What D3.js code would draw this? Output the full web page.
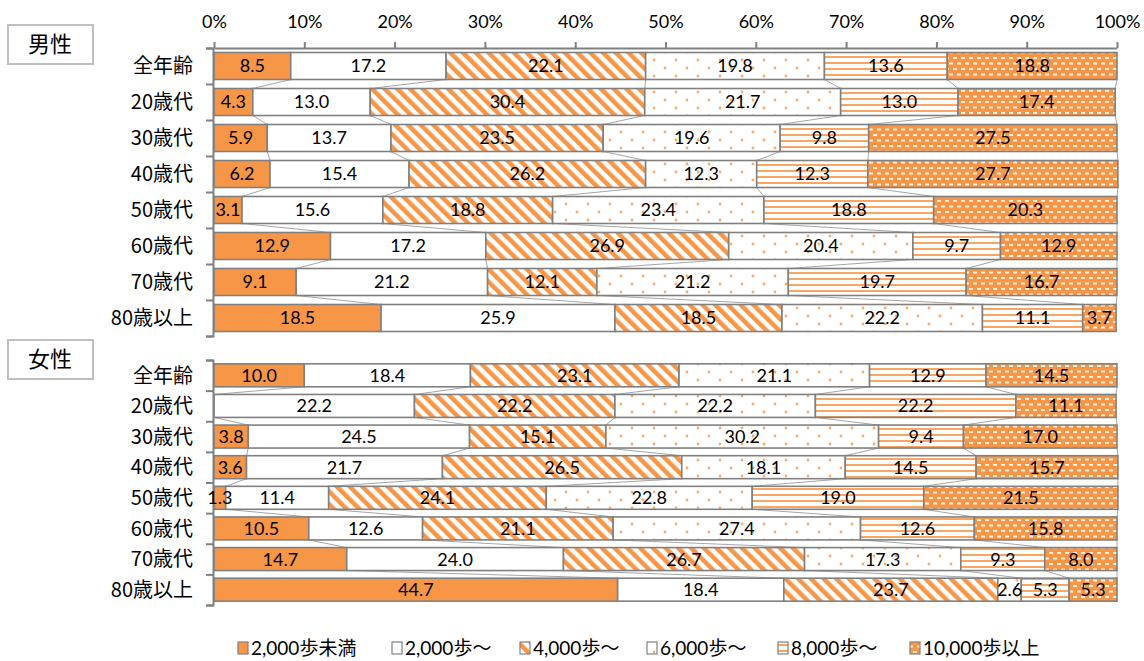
<!DOCTYPE html>
<html>
<head>
<meta charset="utf-8">
<script src="https://cdn.jsdelivr.net/npm/d3@7"></script>
<style>
  body { margin: 0; background: #fff; }
  text { font-family: Lato, "Noto Sans CJK JP", sans-serif; fill: #000; }
  .jp { font-family: "Noto Sans CJK JP", sans-serif; }
</style>
</head>
<body>
<div id="chart"></div>
<script>
var ages = ["全年齢", "20歳代", "30歳代", "40歳代", "50歳代", "60歳代", "70歳代", "80歳以上"];
var steps = ["2,000歩未満", "2,000歩～", "4,000歩～", "6,000歩～", "8,000歩～", "10,000歩以上"];
var xTicks = [0, 10, 20, 30, 40, 50, 60, 70, 80, 90, 100];

// 男性: one row per age group, one value per step class (%)
var male = [
    [8.5, 17.2, 22.1, 19.8, 13.6, 18.8],
    [4.3, 13.0, 30.4, 21.7, 13.0, 17.4],
    [5.9, 13.7, 23.5, 19.6, 9.8, 27.5],
    [6.2, 15.4, 26.2, 12.3, 12.3, 27.7],
    [3.1, 15.6, 18.8, 23.4, 18.8, 20.3],
    [12.9, 17.2, 26.9, 20.4, 9.7, 12.9],
    [9.1, 21.2, 12.1, 21.2, 19.7, 16.7],
    [18.5, 25.9, 18.5, 22.2, 11.1, 3.7]
];

// 女性
var female = [
    [10.0, 18.4, 23.1, 21.1, 12.9, 14.5],
    [0, 22.2, 22.2, 22.2, 22.2, 11.1],
    [3.8, 24.5, 15.1, 30.2, 9.4, 17.0],
    [3.6, 21.7, 26.5, 18.1, 14.5, 15.7],
    [1.3, 11.4, 24.1, 22.8, 19.0, 21.5],
    [10.5, 12.6, 21.1, 27.4, 12.6, 15.8],
    [14.7, 24.0, 26.7, 17.3, 9.3, 8.0],
    [44.7, 18.4, 23.7, 2.6, 5.3, 5.3]
];

var orange = "#f79646";
var grey = "#808080";

var svg = d3.select("#chart").append("svg")
    .attr("width", 1144)
    .attr("height", 661);

var x = d3.scaleLinear().domain([0, 100]).range([214, 1117]);

// patterns
var defs = svg.append("defs");

var pDiag = defs.append("pattern").attr("id", "p2")
    .attr("patternUnits", "userSpaceOnUse")
    .attr("width", 9).attr("height", 9)
    .attr("patternTransform", "rotate(-45)");
pDiag.append("rect").attr("width", 9).attr("height", 9).attr("fill", "#fff");
pDiag.append("rect").attr("width", 4.5).attr("height", 9).attr("fill", orange);

var pDots = defs.append("pattern").attr("id", "p3")
    .attr("patternUnits", "userSpaceOnUse")
    .attr("width", 22).attr("height", 16);
pDots.append("rect").attr("width", 22).attr("height", 16).attr("fill", "#fff");
pDots.append("circle").attr("cx", 5).attr("cy", 4).attr("r", 1.4).attr("fill", orange).attr("opacity", 0.8);
pDots.append("circle").attr("cx", 16).attr("cy", 12).attr("r", 1.4).attr("fill", orange).attr("opacity", 0.8);

var pHoriz = defs.append("pattern").attr("id", "p4")
    .attr("patternUnits", "userSpaceOnUse")
    .attr("width", 8).attr("height", 6);
pHoriz.append("rect").attr("width", 8).attr("height", 6).attr("fill", "#fff");
pHoriz.append("rect").attr("y", 2).attr("width", 8).attr("height", 2).attr("fill", orange).attr("opacity", 0.85);

var pBrick = defs.append("pattern").attr("id", "p5")
    .attr("patternUnits", "userSpaceOnUse")
    .attr("width", 8).attr("height", 11);
pBrick.append("rect").attr("width", 8).attr("height", 11).attr("fill", orange);
pBrick.append("rect").attr("x", 1).attr("y", 2).attr("width", 4).attr("height", 2).attr("fill", "#fff").attr("opacity", 0.85);
pBrick.append("rect").attr("x", 5).attr("y", 7.5).attr("width", 4).attr("height", 2).attr("fill", "#fff").attr("opacity", 0.85);
pBrick.append("rect").attr("x", -3).attr("y", 7.5).attr("width", 4).attr("height", 2).attr("fill", "#fff").attr("opacity", 0.85);

var fills = [orange, "#fff", "url(#p2)", "url(#p3)", "url(#p4)", "url(#p5)"];

var stack = d3.stack().keys(d3.range(steps.length));

function drawPanel(rows, top, bottom, title, titleY, withAxis) {
    var y = d3.scaleBand().domain(ages).range([top, bottom])
        .paddingInner(0.25).paddingOuter(0.125);
    var slot = d3.scaleLinear().domain([0, ages.length]).range([top, bottom]);
    var series = stack(rows);

    // series lines between bars
    var g = svg.append("g");
    series.forEach(function(s) {
        for (var i = 0; i < ages.length - 1; i++) {
            g.append("line")
                .attr("x1", x(s[i][1])).attr("y1", y(ages[i]) + y.bandwidth())
                .attr("x2", x(s[i + 1][1])).attr("y2", y(ages[i + 1]))
                .attr("stroke", "#a6a6a6").attr("stroke-width", 1);
        }
    });

    series.forEach(function(s, k) {
        svg.append("g").selectAll("rect")
            .data(s.filter(function(d) { return d[1] - d[0] > 0; }))
            .enter().append("rect")
            .attr("x", function(d) { return x(d[0]); })
            .attr("y", function(d) { return y(ages[s.indexOf(d)]); })
            .attr("width", function(d) { return x(d[1]) - x(d[0]); })
            .attr("height", y.bandwidth())
            .attr("fill", fills[k])
            .attr("stroke", grey)
            .attr("stroke-width", 1.6);
    });

    // left axis with ticks between categories
    svg.append("g")
        .attr("transform", "translate(213,0)")
        .call(d3.axisLeft(slot).ticks(ages.length).tickFormat("").tickSize(7).tickSizeOuter(7))
        .call(function(a) {
            a.selectAll("path, line").attr("stroke", grey).attr("stroke-width", 2);
        });

    // data labels on top of everything
    series.forEach(function(s) {
        svg.append("g").selectAll("text")
            .data(s.filter(function(d) { return d[1] - d[0] > 0; }))
            .enter().append("text")
            .attr("x", function(d) { return (x(d[0]) + x(d[1])) / 2; })
            .attr("y", function(d) { return y(ages[s.indexOf(d)]) + y.bandwidth() / 2; })
            .attr("dy", "0.36em")
            .attr("text-anchor", "middle")
            .style("font-size", "18px")
            .text(function(d) { return (d[1] - d[0]).toFixed(1); });
    });

    svg.append("g").selectAll("text")
        .data(ages)
        .enter().append("text")
        .attr("class", "jp")
        .attr("x", 193)
        .attr("y", function(d) { return y(d) + y.bandwidth() / 2; })
        .attr("dy", "0.36em")
        .attr("text-anchor", "end")
        .style("font-size", "20px")
        .text(function(d) { return d; });

    if (withAxis) {
        svg.append("g")
            .attr("transform", "translate(0," + top + ")")
            .call(d3.axisTop(x).tickValues(xTicks).tickFormat(function(d) { return d + "%"; })
                .tickSize(6).tickSizeOuter(0).tickPadding(14))
            .call(function(a) {
                a.select(".domain").attr("stroke", grey).attr("stroke-width", 2);
                a.selectAll("line").attr("stroke", grey).attr("stroke-width", 2);
                a.selectAll("text").style("font-size", "18px")
                    .style("font-family", "Lato, sans-serif").attr("fill", "#000");
            });
    }

    // title box
    svg.append("rect")
        .attr("x", 8).attr("y", titleY)
        .attr("width", 85).attr("height", 39)
        .attr("fill", "#fff").attr("stroke", "#bfbfbf").attr("stroke-width", 2);
    svg.append("text")
        .attr("class", "jp")
        .attr("x", 50).attr("y", titleY + 19.5)
        .attr("dy", "0.36em")
        .attr("text-anchor", "middle")
        .style("font-size", "22px")
        .text(title);
}

drawPanel(male, 48, 336, "男性", 25, true);
drawPanel(female, 360, 605, "女性", 340, false);

// legend
var legendX = [238, 392, 520, 647, 778, 910];
var legend = svg.append("g");
steps.forEach(function(s, i) {
    legend.append("rect")
        .attr("x", legendX[i]).attr("y", 642)
        .attr("width", 10).attr("height", 12)
        .attr("fill", fills[i]).attr("stroke", grey).attr("stroke-width", 1.2);
    legend.append("text")
        .attr("x", legendX[i] + 13).attr("y", 648)
        .attr("dy", "0.36em")
        .style("font-size", "19px")
        .text(s);
});
</script>
</body>
</html>
